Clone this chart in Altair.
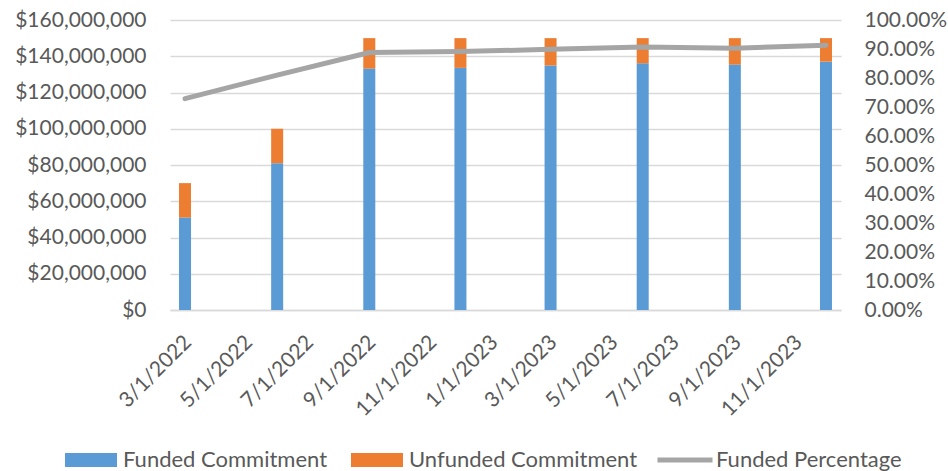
import altair as alt
import pandas as pd

# Quarterly commitment snapshots
dates = ["2022-03-01", "2022-06-01", "2022-09-01", "2022-12-01",
         "2023-03-01", "2023-06-01", "2023-09-01", "2023-12-01"]
funded = [51.0e6, 81.0e6, 133.2e6, 133.6e6, 134.9e6, 136.1e6, 135.4e6, 137.0e6]
unfunded = [19.0e6, 19.0e6, 16.8e6, 16.4e6, 15.1e6, 13.9e6, 14.6e6, 13.0e6]
funded_pct = [0.729, 0.810, 0.888, 0.891, 0.899, 0.907, 0.903, 0.913]

series_names = ["Funded Commitment", "Unfunded Commitment"]
line_name = "Funded Percentage"

# Axis ticks
x_ticks = [(2022, 3), (2022, 5), (2022, 7), (2022, 9), (2022, 11), (2023, 1),
           (2023, 3), (2023, 5), (2023, 7), (2023, 9), (2023, 11)]
dollar_ticks = [0, 20e6, 40e6, 60e6, 80e6, 100e6, 120e6, 140e6, 160e6]
pct_ticks = [0.0, 0.1, 0.2, 0.3, 0.4, 0.5, 0.6, 0.7, 0.8, 0.9, 1.0]

FONT = "Lato"
TXT = "#595959"
GRID = "#d9d9d9"
BLUE = "#5b9bd5"
ORANGE = "#ed7d31"
GRAY = "#a5a5a5"

when = pd.to_datetime(dates)
bar_df = pd.concat([
    pd.DataFrame({"date": when, "series": series_names[0], "value": funded, "order": 0}),
    pd.DataFrame({"date": when, "series": series_names[1], "value": unfunded, "order": 1}),
])
line_df = pd.DataFrame({"date": when, "pct": funded_pct, "name": line_name})

x_enc = alt.X(
    "date:T",
    scale=alt.Scale(domain=[alt.DateTime(year=2022, month=2, date=14),
                            alt.DateTime(year=2023, month=12, date=16)],
                    nice=False, padding=0),
    axis=alt.Axis(
        values=[alt.DateTime(year=y, month=m, date=1) for y, m in x_ticks],
        format="%-m/%-d/%Y", labelAngle=315, labelAlign="right", labelBaseline="top",
        labelPadding=21, labelOffset=-5, ticks=False, tickSize=0, grid=False,
        domainColor=GRID, domainWidth=1.5, title=None,
        labelFont=FONT, labelFontSize=21, labelColor=TXT, labelOverlap=False,
    ),
)

bars = alt.Chart(bar_df).mark_bar(size=12).encode(
    x=x_enc,
    y=alt.Y(
        "value:Q", stack="zero",
        scale=alt.Scale(domain=[0, 160e6], nice=False),
        axis=alt.Axis(
            values=dollar_ticks, format="$,.0f", title=None,
            ticks=False, tickSize=0, domain=False, labelPadding=24,
            grid=True, gridColor=GRID, gridWidth=1.5,
            labelFont=FONT, labelFontSize=21, labelColor=TXT,
        ),
    ),
    fill=alt.Fill(
        "series:N",
        scale=alt.Scale(domain=series_names, range=[BLUE, ORANGE]),
        legend=alt.Legend(
            orient="none", legendX=-105, legendY=414, direction="horizontal",
            title=None, symbolType="M-1,-0.27H1V0.27H-1Z", symbolSize=2704,
            symbolStrokeWidth=0, symbolOpacity=1, labelOffset=6, columnPadding=23,
            padding=0, labelFont=FONT, labelFontSize=22, labelColor=TXT, labelLimit=400,
        ),
    ),
    order=alt.Order("order:Q"),
)

line = alt.Chart(line_df).mark_line(strokeWidth=5, strokeCap="round", strokeJoin="round").encode(
    x=x_enc,
    y=alt.Y(
        "pct:Q",
        scale=alt.Scale(domain=[0, 1], nice=False),
        axis=alt.Axis(
            orient="right", values=pct_ticks, format=".2%", title=None,
            ticks=False, tickSize=0, domain=False, grid=False, labelPadding=23,
            labelFont=FONT, labelFontSize=21, labelColor=TXT,
        ),
    ),
    stroke=alt.Stroke(
        "name:N",
        scale=alt.Scale(domain=[line_name], range=[GRAY]),
        legend=alt.Legend(
            orient="none", legendX=485, legendY=410, direction="horizontal",
            title=None, symbolType="stroke", symbolSize=3025, symbolStrokeWidth=5,
            labelOffset=1, padding=0, labelFont=FONT, labelFontSize=22,
            labelColor=TXT, labelLimit=400,
        ),
    ),
)

chart = (
    alt.layer(bars, line)
    .resolve_scale(y="independent", fill="independent", stroke="independent")
    .properties(
        width=671, height=290,
        autosize=alt.AutoSizeParams(type="none"),
        padding={"left": 170, "top": 20, "right": 107, "bottom": 161},
        background="white",
    )
    .configure_view(stroke=None)
)

chart.save("out.html", embed_options={"renderer": "svg", "actions": False})
